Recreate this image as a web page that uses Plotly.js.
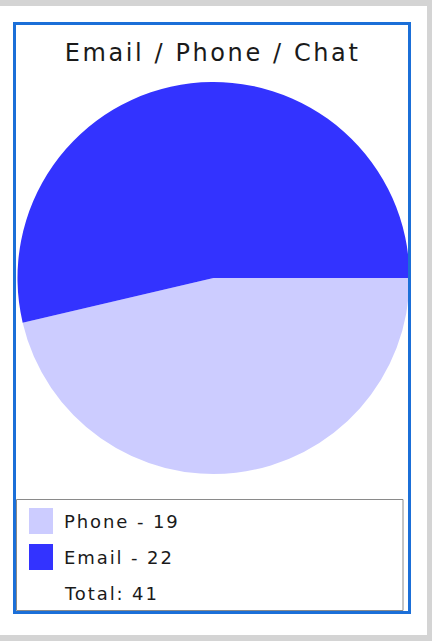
<!DOCTYPE html>
<html>
<head>
<meta charset="utf-8">
<script src="https://cdn.plot.ly/plotly-3.0.1.min.js"></script>
<style>
html,body{margin:0;padding:0;background:#d4d4d4;}
#chart{width:432px;height:641px;}
.gtitle{letter-spacing:2.6px;}
.annotation-text{letter-spacing:1.9px;}
</style>
</head>
<body>
<div id="chart"></div>
<script>
// Data
var categories = ["Phone", "Email"];
var values = [19, 22];
var colors = ["#ccccff", "#3333ff"];
var titleText = "Email / Phone / Chat";

var total = values.reduce(function(a, b){ return a + b; }, 0);
var W = 432, H = 641;
function px(x){ return x / W; }
function py(y){ return 1 - y / H; }

var trace = {
  type: "pie",
  labels: categories,
  values: values,
  sort: false,
  direction: "clockwise",
  rotation: 90,
  textinfo: "none",
  hoverinfo: "none",
  showlegend: false,
  marker: {colors: colors, line: {width: 0}},
  domain: {x: [px(17.5), px(409.5)], y: [py(474), py(82)]}
};

var shapes = [
  {type: "rect", xref: "paper", yref: "paper", x0: 0, x1: px(427), y0: py(635), y1: py(6),
   fillcolor: "#ffffff", line: {width: 0}, layer: "below"},
  {type: "rect", xref: "paper", yref: "paper", x0: px(14.5), x1: px(409.5), y0: py(612.5), y1: py(23.5),
   fillcolor: "rgba(0,0,0,0)", line: {color: "#1b6fd8", width: 3}, layer: "above"},
  {type: "rect", xref: "paper", yref: "paper", x0: px(16.5), x1: px(403), y0: py(610.5), y1: py(499.5),
   fillcolor: "#ffffff", line: {color: "#8a8a8a", width: 1}, layer: "above"}
];
var annotations = [];
var rowY = [521, 557];
categories.forEach(function(c, i){
  shapes.push({type: "rect", xref: "paper", yref: "paper",
    x0: px(29), x1: px(53), y0: py(rowY[i] + 13), y1: py(rowY[i] - 13),
    fillcolor: colors[i], line: {width: 0}, layer: "above"});
  annotations.push({xref: "paper", yref: "paper", x: px(62), y: py(rowY[i]),
    xanchor: "left", yanchor: "middle", showarrow: false,
    text: c + " - " + values[i],
    font: {family: "DejaVu Sans, Verdana, sans-serif", size: 18, color: "#1a1a1a"}});
});
annotations.push({xref: "paper", yref: "paper", x: px(62), y: py(593),
  xanchor: "left", yanchor: "middle", showarrow: false,
  text: "Total: " + total,
  font: {family: "DejaVu Sans, Verdana, sans-serif", size: 18, color: "#1a1a1a"}});

var layout = {
  width: W, height: H,
  margin: {l: 0, r: 0, t: 0, b: 0},
  paper_bgcolor: "#d4d4d4",
  title: {text: titleText, x: 0.492, xanchor: "center", y: py(53), yanchor: "middle",
    font: {family: "DejaVu Sans, Verdana, sans-serif", size: 24, color: "#1a1a1a"}},
  showlegend: false,
  shapes: shapes,
  annotations: annotations
};

Plotly.newPlot("chart", [trace], layout, {staticPlot: true, displayModeBar: false});
</script>
</body>
</html>
